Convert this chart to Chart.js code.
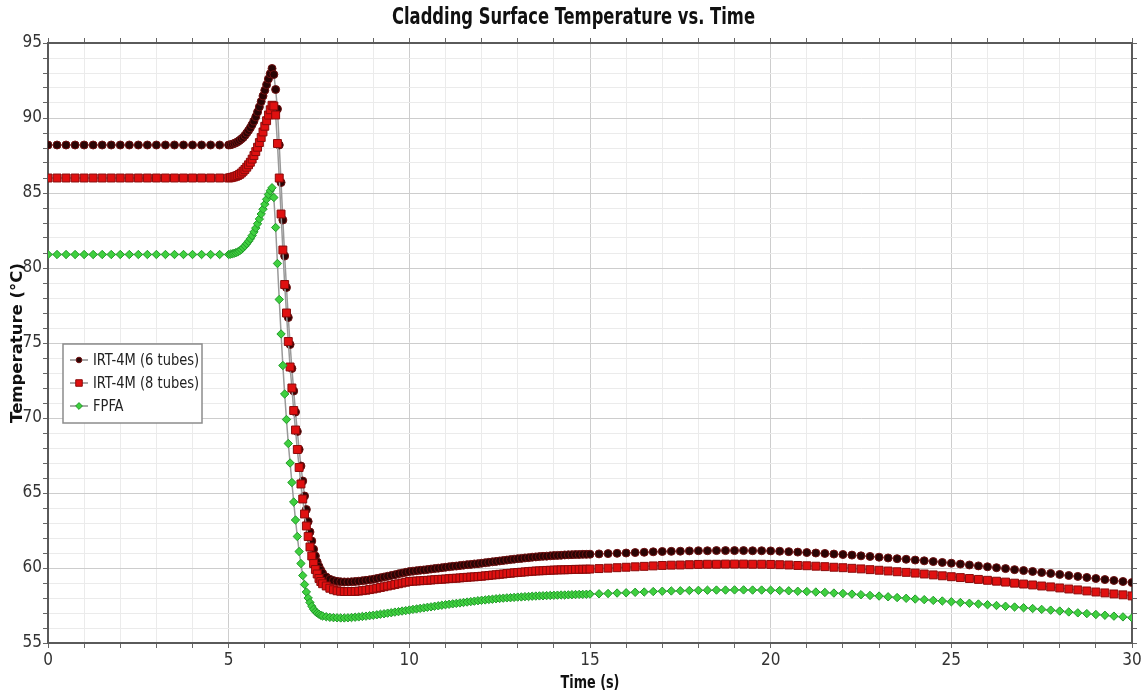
<!DOCTYPE html>
<html>
<head>
<meta charset="utf-8">
<script src="https://cdn.jsdelivr.net/npm/chart.js@4/dist/chart.umd.min.js"></script>
<style>
  body { margin: 0; background: #fff; }
  #wrap { width: 1147px; height: 700px; }
</style>
</head>
<body>
<div id="wrap"><canvas id="chart" width="1147" height="700"></canvas></div>
<script>
// time (s): flat start, heat-up, drop, recovery, slow tail
const time = [
    0, 0.25, 0.5, 0.75, 1, 1.25, 1.5, 1.75, 2, 2.25, 2.5, 2.75, 3, 3.25, 3.5, 3.75, 4, 4.25, 4.5, 4.75,
    5, 5.05, 5.1, 5.15, 5.2, 5.25, 5.3, 5.35, 5.4, 5.45, 5.5, 5.55, 5.6,
    5.65, 5.7, 5.75, 5.8, 5.85, 5.9, 5.95, 6, 6.05, 6.1, 6.15, 6.2,
    6.25, 6.3, 6.35, 6.4, 6.45, 6.5, 6.55, 6.6, 6.65, 6.7, 6.75, 6.8, 6.85, 6.9, 6.95, 7,
    7.05, 7.1, 7.15, 7.2, 7.25, 7.3, 7.35, 7.4, 7.45, 7.5, 7.55, 7.6,
    7.7, 7.8, 7.9, 8, 8.1, 8.2, 8.3, 8.4, 8.5,
    8.6, 8.7, 8.8, 8.9, 9, 9.1, 9.2, 9.3, 9.4, 9.5,
    9.6, 9.7, 9.8, 9.9, 10, 10.1, 10.2, 10.3, 10.4, 10.5,
    10.6, 10.7, 10.8, 10.9, 11, 11.1, 11.2, 11.3, 11.4, 11.5,
    11.6, 11.7, 11.8, 11.9, 12, 12.1, 12.2, 12.3, 12.4, 12.5,
    12.6, 12.7, 12.8, 12.9, 13, 13.1, 13.2, 13.3, 13.4, 13.5,
    13.6, 13.7, 13.8, 13.9, 14, 14.1, 14.2, 14.3, 14.4, 14.5,
    14.6, 14.7, 14.8, 14.9, 15,
    15.25, 15.5, 15.75, 16, 16.25, 16.5, 16.75, 17, 17.25, 17.5, 17.75, 18,
    18.25, 18.5, 18.75, 19, 19.25, 19.5, 19.75, 20, 20.25, 20.5, 20.75, 21,
    21.25, 21.5, 21.75, 22, 22.25, 22.5, 22.75, 23, 23.25, 23.5, 23.75, 24,
    24.25, 24.5, 24.75, 25, 25.25, 25.5, 25.75, 26, 26.25, 26.5, 26.75, 27,
    27.25, 27.5, 27.75, 28, 28.25, 28.5, 28.75, 29, 29.25, 29.5, 29.75, 30
];

const irt6 = [
    88.2, 88.2, 88.2, 88.2, 88.2, 88.2, 88.2, 88.2, 88.2, 88.2, 88.2, 88.2, 88.2, 88.2, 88.2, 88.2, 88.2, 88.2, 88.2, 88.2,
    88.2, 88.22, 88.25, 88.3, 88.35, 88.42, 88.5, 88.6, 88.7, 88.84, 89.0, 89.17, 89.35,
    89.56, 89.8, 90.08, 90.4, 90.74, 91.1, 91.47, 91.85, 92.22, 92.6, 92.95, 93.3,
    92.9, 91.9, 90.6, 88.2, 85.7, 83.2, 80.8, 78.7, 76.7, 74.9, 73.3, 71.8, 70.4, 69.1, 67.9, 66.8,
    65.8, 64.8, 63.9, 63.1, 62.4, 61.8, 61.25, 60.8, 60.4, 60.1, 59.85, 59.65,
    59.4, 59.25, 59.16, 59.11, 59.08, 59.07, 59.07, 59.08, 59.1,
    59.12, 59.15, 59.18, 59.21, 59.25, 59.3, 59.35, 59.4, 59.45, 59.5,
    59.55, 59.61, 59.66, 59.71, 59.76, 59.79, 59.82, 59.85, 59.87, 59.9,
    59.93, 59.96, 59.99, 60.02, 60.05, 60.08, 60.11, 60.13, 60.16, 60.19,
    60.22, 60.24, 60.27, 60.29, 60.32, 60.35, 60.38, 60.41, 60.44, 60.47,
    60.5, 60.53, 60.56, 60.59, 60.62, 60.64, 60.67, 60.69, 60.72, 60.74,
    60.76, 60.78, 60.79, 60.81, 60.83, 60.84, 60.85, 60.87, 60.88, 60.89,
    60.9, 60.9, 60.91, 60.91, 60.92,
    60.94, 60.96, 60.98, 61.0, 61.03, 61.05, 61.08, 61.1, 61.11, 61.12, 61.14, 61.15,
    61.15, 61.16, 61.16, 61.16, 61.16, 61.15, 61.15, 61.14, 61.12, 61.09, 61.06, 61.03,
    61.0, 60.97, 60.93, 60.9, 60.86, 60.81, 60.77, 60.72, 60.67, 60.62, 60.58, 60.53,
    60.48, 60.43, 60.37, 60.32, 60.26, 60.2, 60.14, 60.08, 60.02, 59.96, 59.89, 59.83,
    59.77, 59.7, 59.64, 59.57, 59.5, 59.44, 59.37, 59.3, 59.23, 59.17, 59.1, 59.03
];

const irt8 = [
    86.0, 86.0, 86.0, 86.0, 86.0, 86.0, 86.0, 86.0, 86.0, 86.0, 86.0, 86.0, 86.0, 86.0, 86.0, 86.0, 86.0, 86.0, 86.0, 86.0,
    86.0, 86.02, 86.05, 86.08, 86.12, 86.17, 86.24, 86.33, 86.45, 86.57, 86.72, 86.88, 87.05,
    87.26, 87.5, 87.76, 88.05, 88.36, 88.7, 89.07, 89.45, 89.82, 90.2, 90.55, 90.85,
    90.8, 90.2, 88.3, 86.0, 83.6, 81.2, 78.9, 77.0, 75.1, 73.4, 72.0, 70.5, 69.2, 67.9, 66.7, 65.6,
    64.6, 63.6, 62.8, 62.1, 61.4, 60.8, 60.3, 59.9, 59.6, 59.3, 59.1, 58.95,
    58.8, 58.65, 58.55, 58.48, 58.45, 58.43, 58.43, 58.43, 58.44,
    58.46, 58.49, 58.52, 58.56, 58.6, 58.65, 58.7, 58.75, 58.8, 58.85,
    58.9, 58.95, 59.0, 59.05, 59.1, 59.12, 59.13, 59.15, 59.16, 59.18,
    59.2, 59.22, 59.24, 59.25, 59.27, 59.29, 59.31, 59.32, 59.34, 59.36,
    59.38, 59.4, 59.41, 59.43, 59.45, 59.48, 59.5, 59.53, 59.55, 59.58,
    59.6, 59.63, 59.65, 59.68, 59.7, 59.72, 59.74, 59.76, 59.78, 59.8,
    59.81, 59.82, 59.84, 59.85, 59.86, 59.87, 59.88, 59.88, 59.89, 59.9,
    59.91, 59.91, 59.92, 59.92, 59.93,
    59.96, 59.99, 60.02, 60.05, 60.08, 60.11, 60.14, 60.17, 60.19, 60.2, 60.22, 60.24,
    60.25, 60.25, 60.26, 60.26, 60.26, 60.25, 60.25, 60.24, 60.22, 60.2, 60.17, 60.15,
    60.12, 60.09, 60.05, 60.02, 59.98, 59.94, 59.89, 59.85, 59.8, 59.75, 59.71, 59.66,
    59.6, 59.54, 59.48, 59.42, 59.36, 59.3, 59.24, 59.18, 59.12, 59.06, 58.99, 58.93,
    58.87, 58.8, 58.74, 58.67, 58.6, 58.54, 58.47, 58.4, 58.34, 58.27, 58.21, 58.14
];

const fpfa = [
    80.9, 80.9, 80.9, 80.9, 80.9, 80.9, 80.9, 80.9, 80.9, 80.9, 80.9, 80.9, 80.9, 80.9, 80.9, 80.9, 80.9, 80.9, 80.9, 80.9,
    80.9, 80.92, 80.95, 80.98, 81.02, 81.07, 81.14, 81.23, 81.35, 81.47, 81.62, 81.78, 81.95,
    82.16, 82.4, 82.66, 82.95, 83.27, 83.6, 83.92, 84.25, 84.58, 84.9, 85.15, 85.35,
    84.7, 82.7, 80.3, 77.9, 75.6, 73.5, 71.6, 69.9, 68.3, 67.0, 65.7, 64.4, 63.2, 62.1, 61.1, 60.3,
    59.5, 58.9, 58.4, 58.0, 57.7, 57.45, 57.25, 57.1, 57.0, 56.92, 56.85, 56.8,
    56.75, 56.71, 56.69, 56.68, 56.67, 56.67, 56.68, 56.7, 56.72,
    56.74, 56.77, 56.79, 56.82, 56.85, 56.88, 56.92, 56.95, 56.99, 57.02,
    57.06, 57.09, 57.13, 57.16, 57.2, 57.24, 57.27, 57.31, 57.34, 57.38,
    57.41, 57.45, 57.48, 57.52, 57.55, 57.58, 57.61, 57.64, 57.67, 57.7,
    57.73, 57.76, 57.79, 57.82, 57.85, 57.87, 57.9, 57.92, 57.95, 57.97,
    57.99, 58.01, 58.02, 58.04, 58.06, 58.07, 58.09, 58.1, 58.12, 58.13,
    58.14, 58.15, 58.16, 58.17, 58.18, 58.19, 58.2, 58.2, 58.21, 58.22,
    58.23, 58.24, 58.24, 58.25, 58.26,
    58.28, 58.3, 58.33, 58.35, 58.38, 58.4, 58.43, 58.45, 58.47, 58.48, 58.5, 58.51,
    58.52, 58.53, 58.53, 58.54, 58.54, 58.53, 58.53, 58.52, 58.5, 58.48, 58.45, 58.43,
    58.4, 58.37, 58.33, 58.3, 58.26, 58.22, 58.17, 58.13, 58.08, 58.03, 57.98, 57.93,
    57.89, 57.84, 57.8, 57.75, 57.7, 57.65, 57.6, 57.55, 57.5, 57.45, 57.4, 57.35,
    57.3, 57.24, 57.19, 57.13, 57.07, 57.01, 56.96, 56.9, 56.85, 56.79, 56.74, 56.68
];

const seriesNames = ["IRT-4M (6 tubes)", "IRT-4M (8 tubes)", "FPFA"];
const xTicks = [0, 5, 10, 15, 20, 25, 30];
const yTicks = [55, 60, 65, 70, 75, 80, 85, 90, 95];
const chartTitle = "Cladding Surface Temperature vs. Time";
const xTitle = "Time (s)";

const NARROW = '"Liberation Sans Narrow", "DejaVu Sans Condensed", "Liberation Sans", sans-serif';

function pts(vals) {
    return time.map((t, i) => ({ x: t, y: vals[i] }));
}

/* ---------- legend drawn inside the plot ---------- */
function marker(ctx, style, r, x, y) {
    ctx.beginPath();
    if (style === "circle") {
        ctx.arc(x, y, r, 0, Math.PI * 2);
    } else if (style === "rect") {
        const s = r * Math.SQRT1_2;
        ctx.rect(x - s, y - s, 2 * s, 2 * s);
    } else {
        ctx.moveTo(x - r, y); ctx.lineTo(x, y - r); ctx.lineTo(x + r, y); ctx.lineTo(x, y + r);
        ctx.closePath();
    }
    ctx.fill();
    ctx.stroke();
}

const boxLegend = {
    id: "boxLegend",
    afterDraw(chart) {
        const ctx = chart.ctx;
        const bx = 63, by = 344, bw = 139, bh = 79;
        ctx.save();
        ctx.fillStyle = "#ffffff";
        ctx.fillRect(bx, by, bw, bh);
        ctx.strokeStyle = "#8c8c8c";
        ctx.lineWidth = 1.5;
        ctx.strokeRect(bx, by, bw, bh);
        chart.data.datasets.forEach((ds, i) => {
            const cy = by + 16 + i * 23;
            ctx.strokeStyle = "#555";
            ctx.lineWidth = 1;
            ctx.beginPath();
            ctx.moveTo(bx + 7, cy);
            ctx.lineTo(bx + 25, cy);
            ctx.stroke();
            ctx.fillStyle = ds.pointBackgroundColor;
            ctx.strokeStyle = ds.pointBorderColor;
            marker(ctx, ds.pointStyle, ds.legendRadius, bx + 16, cy);
            // slightly squeezed like the rest of the source image
            ctx.save();
            ctx.translate(bx + 30, cy + 1);
            ctx.scale(0.88, 1);
            ctx.fillStyle = "#222";
            ctx.font = "16.5px " + NARROW;
            ctx.textBaseline = "middle";
            ctx.fillText(ds.label, 0, 0);
            ctx.restore();
        });
        ctx.restore();
    }
};

/* ---------- title and x title, horizontally squeezed ---------- */
function squeezed(ctx, text, cx, cy, font, sx) {
    ctx.save();
    ctx.translate(cx, cy);
    ctx.scale(sx, 1);
    ctx.font = font;
    ctx.fillStyle = "#111";
    ctx.textAlign = "center";
    ctx.textBaseline = "middle";
    ctx.fillText(text, 0, 0);
    ctx.restore();
}

const titles = {
    id: "titles",
    afterDraw(chart) {
        const a = chart.chartArea;
        squeezed(chart.ctx, chartTitle, chart.width / 2, 18, "bold 23px " + NARROW, 0.79);
        squeezed(chart.ctx, xTitle, (a.left + a.right) / 2, 683, "bold 18px " + NARROW, 0.79);
    }
};

const gridColor = c => (c.tick && c.tick.value % 5 === 0) ? "#cdcdcd" : "#ebebeb";
const tickFont = { family: NARROW, size: 17 };

new Chart(document.getElementById("chart").getContext("2d"), {
    type: "line",
    data: {
        datasets: [
            {
                label: seriesNames[0], data: pts(irt6), order: 2,
                borderColor: "#9a9a9a", borderWidth: 1.5,
                pointStyle: "circle", pointRadius: 4, legendRadius: 2.8,
                pointBackgroundColor: "#2a0404", pointBorderColor: "#701010", pointBorderWidth: 1
            },
            {
                label: seriesNames[1], data: pts(irt8), order: 1,
                borderColor: "#9a9a9a", borderWidth: 1.5,
                pointStyle: "rect", pointRadius: 5.6, legendRadius: 4.6,
                pointBackgroundColor: "#e01010", pointBorderColor: "#8a0a0a", pointBorderWidth: 1
            },
            {
                label: seriesNames[2], data: pts(fpfa), order: 0,
                borderColor: "#9a9a9a", borderWidth: 1.5,
                pointStyle: "rectRot", pointRadius: 4.2, legendRadius: 3.4,
                pointBackgroundColor: "#3fd03f", pointBorderColor: "#22992a", pointBorderWidth: 1
            }
        ]
    },
    options: {
        responsive: false,
        animation: false,
        events: [],
        layout: { padding: { top: 32.4, left: 0, right: 0, bottom: 0 } },
        plugins: {
            legend: { display: false },
            tooltip: { enabled: false },
            title: { display: false }
        },
        scales: {
            x: {
                type: "linear", position: "bottom", min: 0, max: 30,
                afterFit: s => { s.height = 57; },
                ticks: {
                    stepSize: 1, autoSkip: false, maxRotation: 0, color: "#333", font: tickFont, padding: 2,
                    callback: v => xTicks.includes(v) ? String(v) : ""
                },
                grid: { color: gridColor, tickColor: "#666", tickLength: 5 },
                border: { color: "#5a5a5a", width: 2 }
            },
            x2: {
                type: "linear", position: "top", axis: "x", min: 0, max: 30,
                afterFit: s => { s.height = 10.6; },
                ticks: { stepSize: 1, display: false },
                grid: { drawOnChartArea: false, tickColor: "#666", tickLength: 5 },
                border: { color: "#5a5a5a", width: 2 }
            },
            y: {
                type: "linear", position: "left", min: 55, max: 95,
                afterFit: s => { s.width = 48; },
                ticks: {
                    stepSize: 1, autoSkip: false, color: "#333", font: tickFont, padding: 1,
                    callback: v => yTicks.includes(v) ? String(v) : ""
                },
                grid: { color: gridColor, tickColor: "#666", tickLength: 5 },
                border: { color: "#5a5a5a", width: 2 },
                title: {
                    display: true, text: "Temperature (°C)", color: "#111",
                    font: { family: '"DejaVu Sans", sans-serif', size: 16.5, weight: "bold" },
                    padding: { top: 8, bottom: 0 }
                }
            },
            y2: {
                type: "linear", position: "right", axis: "y", min: 55, max: 95,
                afterFit: s => { s.width = 15; },
                ticks: { stepSize: 1, display: false },
                grid: { drawOnChartArea: false, tickColor: "#666", tickLength: 5 },
                border: { color: "#5a5a5a", width: 2 }
            }
        }
    },
    plugins: [boxLegend, titles]
});
</script>
</body>
</html>
